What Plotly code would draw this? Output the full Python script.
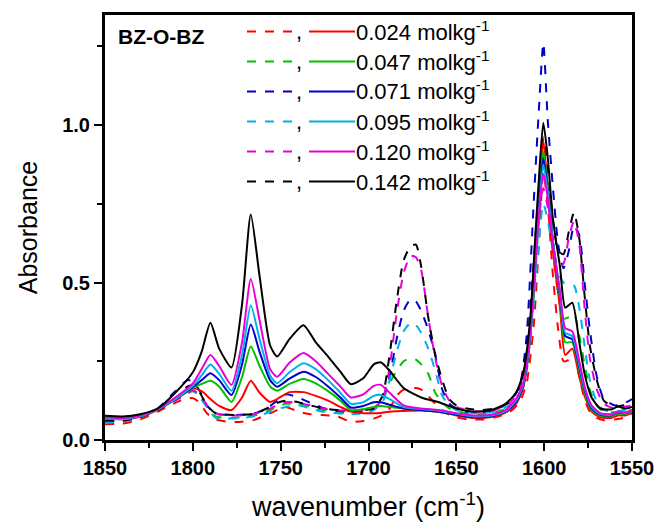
import plotly.graph_objects as go

# ---------------- data ----------------
WN_SOLID = [1850, 1840, 1830, 1820, 1810, 1800, 1795, 1790, 1785, 1778,
            1772, 1767, 1762, 1756, 1752, 1745, 1737, 1730, 1723, 1716,
            1710, 1703, 1697, 1693, 1688, 1680, 1670, 1660, 1650, 1640,
            1630, 1622, 1616, 1612, 1608, 1605, 1603, 1600.5, 1598, 1595,
            1591, 1588, 1584, 1580, 1577, 1573, 1568, 1562, 1558, 1554, 1550]

WN_DASH = [1850, 1840, 1830, 1820, 1810, 1803, 1800, 1796, 1792, 1787,
           1780, 1772, 1765, 1758, 1752, 1747, 1740, 1733, 1726, 1718,
           1710, 1703, 1697, 1692, 1688, 1684, 1680, 1676, 1673, 1670,
           1666, 1662, 1658, 1654, 1650, 1644, 1636, 1628, 1620, 1614,
           1610, 1606, 1603, 1600.5, 1598, 1595, 1592, 1589, 1586, 1583,
           1580, 1577, 1574, 1570, 1566, 1560, 1555, 1550]

CONC_LABELS = ["0.024", "0.047", "0.071", "0.095", "0.120", "0.142"]
COLORS = ["#FF0000", "#00C000", "#0000CC", "#00B0E8", "#E800D8", "#000000"]

SOLID_024 = [0.068, 0.066, 0.074, 0.096, 0.128, 0.163, 0.155, 0.130, 0.108, 0.095,
             0.135, 0.188, 0.150, 0.121, 0.130, 0.152, 0.152, 0.140, 0.125, 0.105,
             0.090, 0.085, 0.085, 0.086, 0.090, 0.092, 0.094, 0.090, 0.078, 0.070,
             0.073, 0.087, 0.115, 0.165, 0.320, 0.570, 0.780, 0.952, 0.800, 0.600,
             0.420, 0.270, 0.290, 0.200, 0.140, 0.090, 0.072, 0.070, 0.078, 0.078, 0.086]
SOLID_047 = [0.070, 0.068, 0.076, 0.098, 0.130, 0.165, 0.178, 0.188, 0.170, 0.121,
             0.200, 0.297, 0.235, 0.170, 0.156, 0.178, 0.194, 0.180, 0.155, 0.125,
             0.095, 0.098, 0.105, 0.108, 0.105, 0.100, 0.095, 0.090, 0.080, 0.074,
             0.077, 0.090, 0.120, 0.170, 0.330, 0.570, 0.760, 0.915, 0.810, 0.630,
             0.450, 0.310, 0.310, 0.220, 0.150, 0.095, 0.077, 0.076, 0.084, 0.083, 0.090]
SOLID_071 = [0.070, 0.068, 0.076, 0.098, 0.130, 0.168, 0.190, 0.212, 0.190, 0.143,
             0.240, 0.367, 0.280, 0.190, 0.169, 0.195, 0.217, 0.200, 0.170, 0.135,
             0.103, 0.108, 0.120, 0.120, 0.112, 0.100, 0.095, 0.090, 0.080, 0.072,
             0.075, 0.090, 0.120, 0.170, 0.330, 0.560, 0.740, 0.895, 0.800, 0.630,
             0.460, 0.330, 0.320, 0.230, 0.160, 0.100, 0.080, 0.078, 0.086, 0.085, 0.092]
SOLID_095 = [0.068, 0.066, 0.075, 0.098, 0.130, 0.172, 0.205, 0.240, 0.210, 0.156,
             0.270, 0.428, 0.320, 0.205, 0.180, 0.215, 0.244, 0.225, 0.190, 0.150,
             0.115, 0.120, 0.140, 0.143, 0.130, 0.105, 0.098, 0.093, 0.083, 0.075,
             0.078, 0.092, 0.125, 0.175, 0.330, 0.550, 0.720, 0.875, 0.790, 0.630,
             0.470, 0.340, 0.330, 0.240, 0.165, 0.105, 0.082, 0.080, 0.088, 0.086, 0.093]
SOLID_120 = [0.072, 0.070, 0.078, 0.100, 0.135, 0.180, 0.225, 0.270, 0.235, 0.175,
             0.310, 0.511, 0.380, 0.225, 0.201, 0.245, 0.276, 0.250, 0.210, 0.170,
             0.135, 0.145, 0.172, 0.175, 0.150, 0.110, 0.100, 0.095, 0.085, 0.078,
             0.080, 0.095, 0.130, 0.180, 0.340, 0.560, 0.720, 0.845, 0.770, 0.620,
             0.470, 0.355, 0.345, 0.250, 0.170, 0.110, 0.085, 0.082, 0.090, 0.088, 0.095]
SOLID_142 = [0.077, 0.075, 0.082, 0.100, 0.150, 0.215, 0.280, 0.372, 0.290, 0.230,
             0.430, 0.716, 0.520, 0.300, 0.265, 0.320, 0.364, 0.310, 0.265, 0.217,
             0.177, 0.196, 0.240, 0.247, 0.220, 0.165, 0.135, 0.120, 0.100, 0.090,
             0.095, 0.115, 0.150, 0.210, 0.380, 0.650, 0.830, 1.007, 0.900, 0.700,
             0.550, 0.420, 0.436, 0.310, 0.210, 0.135, 0.100, 0.097, 0.106, 0.100, 0.105]

DASH_024 = [0.050, 0.052, 0.065, 0.090, 0.118, 0.133, 0.133, 0.118, 0.085, 0.065,
            0.058, 0.058, 0.064, 0.080, 0.095, 0.105, 0.090, 0.082, 0.079, 0.075,
            0.058, 0.060, 0.068, 0.080, 0.100, 0.140, 0.160, 0.163, 0.165, 0.160,
            0.140, 0.115, 0.095, 0.080, 0.072, 0.066, 0.065, 0.072, 0.088, 0.120,
            0.180, 0.360, 0.620, 0.850, 0.750, 0.520, 0.350, 0.250, 0.255, 0.280,
            0.200, 0.130, 0.090, 0.070, 0.063, 0.065, 0.070, 0.085]
DASH_047 = [0.060, 0.060, 0.072, 0.097, 0.128, 0.150, 0.155, 0.140, 0.105, 0.075,
            0.070, 0.072, 0.078, 0.090, 0.105, 0.115, 0.115, 0.105, 0.095, 0.088,
            0.085, 0.090, 0.100, 0.130, 0.180, 0.220, 0.250, 0.260, 0.255, 0.240,
            0.210, 0.150, 0.120, 0.100, 0.092, 0.085, 0.082, 0.087, 0.105, 0.140,
            0.220, 0.450, 0.700, 0.900, 0.800, 0.600, 0.460, 0.385, 0.390, 0.400,
            0.330, 0.240, 0.160, 0.110, 0.090, 0.088, 0.090, 0.095]
DASH_071 = [0.062, 0.062, 0.075, 0.100, 0.155, 0.190, 0.185, 0.155, 0.110, 0.083,
            0.080, 0.080, 0.084, 0.100, 0.125, 0.145, 0.135, 0.118, 0.102, 0.093,
            0.090, 0.092, 0.100, 0.130, 0.200, 0.320, 0.410, 0.447, 0.440, 0.410,
            0.350, 0.270, 0.160, 0.115, 0.100, 0.090, 0.088, 0.095, 0.120, 0.170,
            0.330, 0.750, 1.050, 1.260, 1.020, 0.800, 0.620, 0.545, 0.600, 0.680,
            0.650, 0.500, 0.350, 0.200, 0.130, 0.110, 0.115, 0.130]
DASH_095 = [0.055, 0.058, 0.070, 0.095, 0.125, 0.145, 0.158, 0.135, 0.105, 0.070,
            0.068, 0.070, 0.075, 0.085, 0.098, 0.105, 0.110, 0.100, 0.090, 0.085,
            0.082, 0.085, 0.095, 0.120, 0.190, 0.280, 0.345, 0.372, 0.365, 0.340,
            0.290, 0.220, 0.140, 0.110, 0.095, 0.088, 0.085, 0.090, 0.110, 0.150,
            0.230, 0.430, 0.630, 0.750, 0.700, 0.600, 0.530, 0.500, 0.490, 0.490,
            0.420, 0.300, 0.190, 0.120, 0.095, 0.090, 0.095, 0.100]
DASH_120 = [0.062, 0.062, 0.072, 0.095, 0.125, 0.150, 0.157, 0.145, 0.110, 0.085,
            0.078, 0.078, 0.083, 0.095, 0.110, 0.120, 0.118, 0.110, 0.100, 0.095,
            0.092, 0.095, 0.100, 0.130, 0.230, 0.400, 0.530, 0.585, 0.580, 0.540,
            0.390, 0.260, 0.170, 0.125, 0.105, 0.095, 0.090, 0.095, 0.115, 0.160,
            0.260, 0.500, 0.700, 0.800, 0.740, 0.620, 0.550, 0.560, 0.640, 0.695,
            0.620, 0.420, 0.260, 0.160, 0.115, 0.100, 0.105, 0.110]
DASH_142 = [0.062, 0.062, 0.072, 0.095, 0.130, 0.170, 0.172, 0.150, 0.110, 0.085,
            0.080, 0.080, 0.083, 0.100, 0.118, 0.125, 0.120, 0.110, 0.100, 0.095,
            0.092, 0.095, 0.100, 0.140, 0.270, 0.440, 0.570, 0.615, 0.620, 0.550,
            0.390, 0.270, 0.190, 0.130, 0.110, 0.100, 0.095, 0.100, 0.120, 0.170,
            0.280, 0.560, 0.800, 0.960, 0.860, 0.700, 0.600, 0.590, 0.660, 0.723,
            0.640, 0.460, 0.300, 0.190, 0.125, 0.105, 0.110, 0.115]

SOLIDS = [SOLID_024, SOLID_047, SOLID_071, SOLID_095, SOLID_120, SOLID_142]
DASHES = [DASH_024, DASH_047, DASH_071, DASH_095, DASH_120, DASH_142]

SAMPLE_NAME = "BZ-O-BZ"
X_TITLE = "wavenumber (cm<sup>-1</sup>)"
Y_TITLE = "Absorbance"
UNIT = "molkg<sup>-1</sup>"

# ---------------- figure ----------------
W, H = 657, 522
ML, MR, MT, MB = 105, 25, 15, 82
PW, PH = W - ML - MR, H - MT - MB
FONT = "Liberation Sans, Arial, Helvetica, sans-serif"

fig = go.Figure()
for vals, col, lab in zip(DASHES, COLORS, CONC_LABELS):
    fig.add_trace(go.Scatter(x=WN_DASH, y=vals, mode="lines", showlegend=False,
                             name=lab + " (dash)",
                             line=dict(color=col, width=2, dash="dash",
                                       shape="spline", smoothing=0.6)))
for vals, col, lab in zip(SOLIDS, COLORS, CONC_LABELS):
    fig.add_trace(go.Scatter(x=WN_SOLID, y=vals, mode="lines", showlegend=False,
                             name=lab,
                             line=dict(color=col, width=2,
                                       shape="spline", smoothing=0.6)))


def pxx(x):
    return (x - ML) / PW


def pxy(y):
    return (H - MB - y) / PH


shapes = []
annotations = []
for i, (col, lab) in enumerate(zip(COLORS, CONC_LABELS)):
    yrow = 31.5 + 30 * i
    shapes.append(dict(type="line", xref="paper", yref="paper",
                       x0=pxx(247), x1=pxx(295), y0=pxy(yrow), y1=pxy(yrow),
                       line=dict(color=col, width=2, dash="dash")))
    shapes.append(dict(type="line", xref="paper", yref="paper",
                       x0=pxx(309), x1=pxx(355), y0=pxy(yrow), y1=pxy(yrow),
                       line=dict(color=col, width=2)))
    annotations.append(dict(xref="paper", yref="paper", x=pxx(299), y=pxy(yrow),
                            text=",", showarrow=False, xanchor="center", yanchor="middle",
                            font=dict(family=FONT, size=22, color="black")))
    annotations.append(dict(xref="paper", yref="paper", x=pxx(354), y=pxy(yrow - 1),
                            text=lab + " " + UNIT, showarrow=False,
                            xanchor="left", yanchor="middle",
                            font=dict(family=FONT, size=22, color="black")))

annotations.append(dict(xref="paper", yref="paper", x=pxx(116), y=pxy(36),
                        text="<b>" + SAMPLE_NAME + "</b>", showarrow=False,
                        xanchor="left", yanchor="middle",
                        font=dict(family=FONT, size=21, color="black")))

axis_common = dict(showline=True, linewidth=3, linecolor="black", mirror=True,
                   ticks="outside", ticklen=8, tickwidth=2, tickcolor="black",
                   showgrid=False, zeroline=False, automargin=False,
                   tickfont=dict(family=FONT, size=20, color="black", weight="bold"))

fig.update_layout(
    width=W, height=H,
    margin=dict(l=ML, r=MR, t=MT, b=MB, pad=0, autoexpand=False),
    paper_bgcolor="white", plot_bgcolor="white",
    xaxis=dict(range=[1850, 1550], tick0=1550, dtick=50,
               minor=dict(dtick=25, ticklen=5, tickwidth=2, ticks="outside",
                          tickcolor="black", showgrid=False),
               title=dict(text=X_TITLE, standoff=20,
                          font=dict(family=FONT, size=27, color="black")),
               **axis_common),
    yaxis=dict(range=[0, PH / 315.0], tick0=0, dtick=0.5, tickformat=".1f",
               minor=dict(dtick=0.25, ticklen=5, tickwidth=2, ticks="outside",
                          tickcolor="black", showgrid=False),
               title=dict(text=Y_TITLE, standoff=18,
                          font=dict(family=FONT, size=25, color="black")),
               **axis_common),
    shapes=shapes,
    annotations=annotations,
    showlegend=False,
)

fig.write_html("out.html")
